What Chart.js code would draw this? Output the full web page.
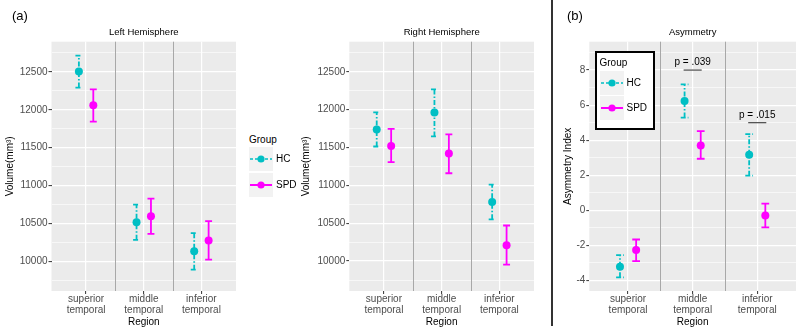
<!DOCTYPE html>
<html><head><meta charset="utf-8">
<script src="https://cdn.jsdelivr.net/npm/chart.js@4/dist/chart.umd.min.js"></script>
<style>
html,body{margin:0;padding:0;background:#fff;}
#wrap{position:relative;width:800px;height:328px;overflow:hidden;font-family:'Liberation Sans',Arial,sans-serif;color:#000;}
canvas{position:absolute;top:0;}
.t{position:absolute;white-space:nowrap;line-height:12px;height:12px;}
svg{position:absolute;}
</style></head><body>
<div id="wrap">
<canvas id="cL" width="240" height="328" style="left:0px"></canvas>
<canvas id="cR" width="248" height="328" style="left:290px"></canvas>
<canvas id="cA" width="247" height="328" style="left:553px"></canvas>
<div style="position:absolute;left:551px;top:0;width:1.6px;height:326px;background:#333"></div>
<div class="t" style="left:12px;top:8px;font-size:13px;line-height:15px;height:15px">(a)</div>
<div class="t" style="left:567px;top:8px;font-size:13px;line-height:15px;height:15px">(b)</div>
<div id="legMid"></div>
<div id="legIn" style="position:absolute;left:595px;top:51px;width:60px;height:79px;border:2px solid #000;box-sizing:border-box;background:#fff"></div>
</div>
<script>
// ---------------- data ----------------
const regions = [["superior","temporal"],["middle","temporal"],["inferior","temporal"]];
const groups = ["HC","SPD"];

const leftHCMean   = [12505, 10517, 10135];
const leftHCLower  = [12293, 10285,  9890];
const leftHCUpper  = [12714, 10750, 10372];
const leftSPDMean  = [12061, 10596, 10276];
const leftSPDLower = [11845, 10364, 10022];
const leftSPDUpper = [12270, 10829, 10530];

const rightHCMean   = [11738, 11963, 10780];
const rightHCLower  = [11513, 11646, 10552];
const rightHCUpper  = [11963, 12267, 11010];
const rightSPDMean  = [11521, 11421, 10209];
const rightSPDLower = [11306, 11160,  9952];
const rightSPDUpper = [11746, 11672, 10470];

const asymHCMean   = [-3.22, 6.24, 3.17];
const asymHCLower  = [-3.83, 5.29, 1.97];
const asymHCUpper  = [-2.56, 7.18, 4.34];
const asymSPDMean  = [-2.27, 3.70, -0.30];
const asymSPDLower = [-2.90, 2.94, -0.98];
const asymSPDUpper = [-1.67, 4.51, 0.38];

const volumeTicks = [10000, 10500, 11000, 11500, 12000, 12500];
const asymTicks = [-4, -2, 0, 2, 4, 6, 8];

const sigLabels  = ["p = .039", "p = .015"];
const sigRegions = [2, 3];
const sigLevels  = [8, 5];

// ---------------- styling ----------------
const FONT = "'Liberation Sans', Arial, sans-serif";
const CYAN = '#00BFC4', MAG = '#FF00FF';
const HC_DASH = [5, 2, 1.5, 2];
const DODGE = 0.125;

function allTicks(major, min, max) {
  const step = major[1] - major[0];
  const vals = [];
  for (let v = major[0] - step / 2; v <= major[major.length - 1] + step / 2 + 1e-9; v += step / 2) {
    if (v >= min && v <= max) vals.push(Math.round(v * 1000) / 1000);
  }
  return vals;
}

function panelPlugin(title, series, sig) {
  return {
    id: 'panel',
    beforeDraw(chart) {
      const {ctx, chartArea: a} = chart;
      ctx.save();
      ctx.fillStyle = '#EBEBEB';
      ctx.fillRect(a.left, a.top, a.right - a.left, a.bottom - a.top);
      ctx.restore();
    },
    beforeDatasetsDraw(chart) {
      const {ctx, chartArea: a, scales: {x, y}} = chart;
      ctx.save();
      ctx.strokeStyle = '#A8A8A8'; ctx.lineWidth = 1;
      [1.5, 2.5].forEach(v => {
        const px = Math.round(x.getPixelForValue(v)) + 0.5;
        ctx.beginPath(); ctx.moveTo(px, a.top); ctx.lineTo(px, a.bottom); ctx.stroke();
      });
      series.forEach(s => {
        ctx.strokeStyle = s.color; ctx.lineWidth = 1.8; ctx.setLineDash(s.dash);
        s.lower.forEach((lo, i) => {
          const cx = x.getPixelForValue(i + 1 + s.offset);
          const cap = x.getPixelForValue(i + 1 + s.offset + 0.06) - cx;
          const yl = y.getPixelForValue(lo), yh = y.getPixelForValue(s.upper[i]);
          ctx.beginPath();
          ctx.moveTo(cx, yl); ctx.lineTo(cx, yh);
          ctx.moveTo(cx - cap, yl); ctx.lineTo(cx + cap, yl);
          ctx.moveTo(cx - cap, yh); ctx.lineTo(cx + cap, yh);
          ctx.stroke();
        });
      });
      ctx.restore();
    },
    afterDraw(chart) {
      const {ctx, chartArea: a, scales: {x, y}} = chart;
      ctx.save();
      ctx.fillStyle = '#000';
      ctx.font = '9.5px ' + FONT;
      ctx.textAlign = 'center'; ctx.textBaseline = 'middle';
      ctx.fillText(title, (a.left + a.right) / 2, 32);
      if (sig) {
        sig.labels.forEach((lab, k) => {
          const c = sig.regions[k];
          const ly = y.getPixelForValue(sig.levels[k]);
          const x0 = x.getPixelForValue(c - 0.14), x1 = x.getPixelForValue(c + 0.14);
          ctx.strokeStyle = '#555'; ctx.lineWidth = 1.3;
          ctx.beginPath(); ctx.moveTo(x0, ly); ctx.lineTo(x1, ly); ctx.stroke();
          ctx.font = '10px ' + FONT; ctx.fillStyle = '#000';
          ctx.fillText(lab, x.getPixelForValue(c), ly - 7.5);
        });
      }
      ctx.restore();
    }
  };
}

function makeChart(id, cfg) {
  const ticks = allTicks(cfg.major, cfg.min, cfg.max);
  const isMajor = v => cfg.major.some(m => Math.abs(m - v) < 1e-6);
  const series = [
    {color: CYAN, dash: HC_DASH, offset: -DODGE, lower: cfg.hcLower, upper: cfg.hcUpper},
    {color: MAG, dash: [], offset: DODGE, lower: cfg.spdLower, upper: cfg.spdUpper}
  ];
  return new Chart(document.getElementById(id), {
    type: 'scatter',
    data: {
      datasets: [
        {label: groups[0], data: cfg.hcMean.map((v, i) => ({x: i + 1 - DODGE, y: v})),
         pointRadius: 4, pointBackgroundColor: CYAN, pointBorderWidth: 0, showLine: false},
        {label: groups[1], data: cfg.spdMean.map((v, i) => ({x: i + 1 + DODGE, y: v})),
         pointRadius: 4, pointBackgroundColor: MAG, pointBorderWidth: 0, showLine: false}
      ]
    },
    options: {
      responsive: false, animation: false, devicePixelRatio: 1,
      layout: {padding: {top: 41.7, right: cfg.padRight, bottom: 0, left: 0}},
      plugins: {legend: {display: false}, tooltip: {enabled: false}},
      scales: {
        x: {
          type: 'linear', min: 0.4, max: 3.6,
          afterBuildTicks: s => { s.ticks = [1, 2, 3].map(v => ({value: v})); },
          afterFit: s => { s.height = 37; },
          grid: {color: '#FFFFFF', lineWidth: 1.2, tickColor: '#333', tickLength: 3, tickWidth: 1},
          border: {display: false},
          ticks: {callback: (v, i) => regions[i], color: '#4D4D4D', autoSkip: false, maxRotation: 0,
                  font: {size: 10, family: FONT, lineHeight: 1.07}, padding: 0},
          title: {display: true, text: 'Region', color: '#000', font: {size: 10, family: FONT}, padding: {top: 0, bottom: 0}}
        },
        y: {
          min: cfg.min, max: cfg.max,
          afterBuildTicks: s => { s.ticks = ticks.map(v => ({value: v})); },
          afterFit: s => { s.width = cfg.yWidth; },
          grid: {
            color: '#FFFFFF',
            lineWidth: c => (c.tick && isMajor(c.tick.value)) ? 1.2 : 0.6,
            tickColor: c => (c.tick && isMajor(c.tick.value)) ? '#333' : 'rgba(0,0,0,0)',
            tickLength: 3, tickWidth: 1
          },
          border: {display: false},
          ticks: {callback: v => isMajor(v) ? String(v) : '', color: '#4D4D4D', autoSkip: false,
                  font: {size: 10, family: FONT}, padding: 1},
          title: {display: true, text: cfg.yTitle, color: '#000', font: {size: 10, family: FONT},
                  padding: {top: cfg.titlePad, bottom: 0}}
        }
      }
    },
    plugins: [panelPlugin(cfg.title, series, cfg.sig)]
  });
}

makeChart('cL', {title: 'Left Hemisphere', yTitle: 'Volume(mm³)', min: 9609, max: 12899, major: volumeTicks,
  hcMean: leftHCMean, hcLower: leftHCLower, hcUpper: leftHCUpper,
  spdMean: leftSPDMean, spdLower: leftSPDLower, spdUpper: leftSPDUpper,
  yWidth: 51.5, padRight: 4, titlePad: 4.5});
makeChart('cR', {title: 'Right Hemisphere', yTitle: 'Volume(mm³)', min: 9605, max: 12897, major: volumeTicks,
  hcMean: rightHCMean, hcLower: rightHCLower, hcUpper: rightHCUpper,
  spdMean: rightSPDMean, spdLower: rightSPDLower, spdUpper: rightSPDUpper,
  yWidth: 59.3, padRight: 4, titlePad: 10.7});
makeChart('cA', {title: 'Asymmetry', yTitle: 'Asymmetry Index', min: -4.61, max: 9.62, major: asymTicks,
  hcMean: asymHCMean, hcLower: asymHCLower, hcUpper: asymHCUpper,
  spdMean: asymSPDMean, spdLower: asymSPDLower, spdUpper: asymSPDUpper,
  yWidth: 36.3, padRight: 3, titlePad: 9,
  sig: {labels: sigLabels, regions: sigRegions, levels: sigLevels}});

// ---------------- legends (HTML text) ----------------
function keySvg(k) {
  const col = k === 0 ? CYAN : MAG;
  const dash = k === 0 ? ' stroke-dasharray="3,2"' : '';
  const w = k === 0 ? 1.5 : 2;
  return '<svg width="24" height="24" style="left:0;top:0">' +
    '<rect x="0" y="0" width="24" height="24" fill="#F2F2F2"/>' +
    '<line x1="1" y1="12" x2="23" y2="12" stroke="' + col + '" stroke-width="' + w + '"' + dash + '/>' +
    '<circle cx="12" cy="12" r="3.6" fill="' + col + '"/></svg>';
}
function buildLegend(parent, x, titleY, keyTops) {
  const wrap = document.getElementById('wrap');
  const t = document.createElement('div');
  t.className = 't'; t.style.left = x + 'px'; t.style.top = (titleY - 6) + 'px'; t.style.fontSize = '10px';
  t.textContent = 'Group';
  wrap.appendChild(t);
  groups.forEach((g, k) => {
    const box = document.createElement('div');
    box.style.cssText = 'position:absolute;left:' + x + 'px;top:' + keyTops[k] + 'px;width:24px;height:24px';
    box.innerHTML = keySvg(k);
    wrap.appendChild(box);
    const lab = document.createElement('div');
    lab.className = 't'; lab.style.left = (x + 27) + 'px'; lab.style.top = (keyTops[k] + 6) + 'px';
    lab.style.fontSize = '10px'; lab.textContent = g;
    wrap.appendChild(lab);
  });
}
buildLegend(null, 249, 140, [147, 173]);
buildLegend(null, 599.5, 63.3, [71, 96]);
</script>
</body></html>
